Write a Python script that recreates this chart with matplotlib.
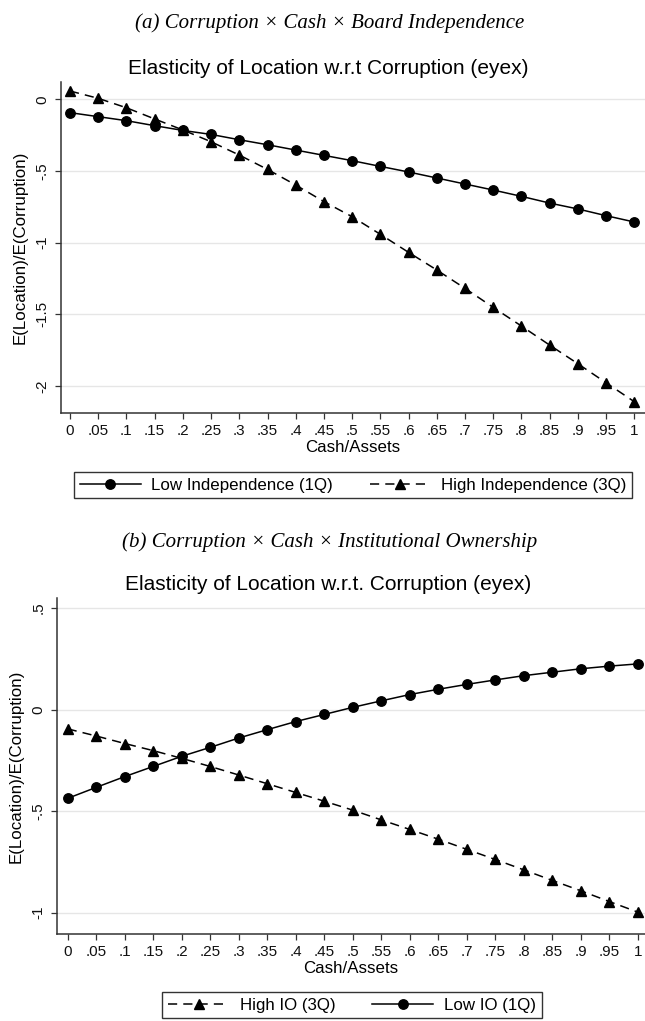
import matplotlib
matplotlib.use("Agg")
import matplotlib.pyplot as plt
from matplotlib.lines import Line2D

plt.rcParams['font.family'] = ['Liberation Sans', 'DejaVu Sans']

# shared x grid (Cash/Assets)
cash = [0, .05, .1, .15, .2, .25, .3, .35, .4, .45, .5,
        .55, .6, .65, .7, .75, .8, .85, .9, .95, 1]
cash_labels = ["0", ".05", ".1", ".15", ".2", ".25", ".3", ".35", ".4", ".45", ".5",
               ".55", ".6", ".65", ".7", ".75", ".8", ".85", ".9", ".95", "1"]

# panel (a): board independence
low_indep = [-0.093, -0.121, -0.149, -0.184, -0.217, -0.245, -0.282, -0.317, -0.354, -0.391, -0.428,
             -0.468, -0.507, -0.549, -0.591, -0.633, -0.677, -0.724, -0.765, -0.812, -0.856]
high_indep = [0.058, 0.007, -0.059, -0.137, -0.214, -0.296, -0.389, -0.489, -0.598, -0.714, -0.819,
              -0.942, -1.068, -1.191, -1.319, -1.452, -1.582, -1.715, -1.845, -1.978, -2.110]
a_yticks = [0, -0.5, -1, -1.5, -2]
a_ylabels = ["0", "-.5", "-1", "-1.5", "-2"]

# panel (b): institutional ownership
high_io = [-0.095, -0.130, -0.167, -0.202, -0.240, -0.280, -0.322, -0.365, -0.408, -0.451, -0.495,
           -0.543, -0.590, -0.638, -0.688, -0.738, -0.789, -0.841, -0.892, -0.945, -0.997]
low_io = [-0.437, -0.383, -0.330, -0.280, -0.230, -0.186, -0.140, -0.099, -0.059, -0.024, 0.011,
          0.043, 0.074, 0.100, 0.124, 0.146, 0.167, 0.184, 0.201, 0.214, 0.225]
b_yticks = [0.5, 0, -0.5, -1]
b_ylabels = [".5", "0", "-.5", "-1"]

W, H = 645, 1021
fig = plt.figure(figsize=(W / 100, H / 100), dpi=100)

DARK = "#333333"
GRID = "#e6e6e6"
solid_kw = dict(color="black", lw=1.1, marker="o", ms=6.8)
dash_kw = dict(color="black", lw=1.1, marker="^", ms=7.2, dashes=(6, 4))


def fx(px):
    return px / W


def fy(py):
    return 1 - py / H


def style_axes(ax, yticks, ylabels):
    ax.set_xticks(cash)
    ax.set_xticklabels(cash_labels)
    ax.set_yticks(yticks)
    ax.set_yticklabels(ylabels)
    plt.setp(ax.get_yticklabels(), rotation=90, va="center")
    ax.grid(axis="y", color=GRID, lw=1)
    ax.set_axisbelow(True)
    for s in ["top", "right"]:
        ax.spines[s].set_visible(False)
    for s in ["left", "bottom"]:
        ax.spines[s].set_color(DARK)
        ax.spines[s].set_linewidth(1.1)
    ax.tick_params(axis="both", colors=DARK, labelcolor="#111111", length=4, width=0.9,
                   labelsize=11, pad=4)
    ax.set_xlabel("Cash/Assets", fontsize=12.2, labelpad=1)
    ax.set_ylabel("E(Location)/E(Corruption)", fontsize=12.2, labelpad=6)


# ---- panel (a)
ax1 = fig.add_axes([fx(60.7), fy(413.3), 1 - fx(60.7), (413.3 - 81.7) / H])
ax1.plot(cash, low_indep, **solid_kw)
ax1.plot(cash, high_indep, **dash_kw)
ax1.set_xlim(-0.0165, 1.019)
ax1.set_ylim(-2.191, 0.123)
style_axes(ax1, a_yticks, a_ylabels)

fig.text(fx(330), fy(23), "(a) Corruption \u00d7 Cash \u00d7 Board Independence",
         family="Liberation Serif", style="italic", fontsize=15, ha="center", va="center")
fig.text(fx(328), fy(68), "Elasticity of Location w.r.t Corruption (eyex)",
         fontsize=15, ha="center", va="center")

h_low = Line2D([], [], **solid_kw)
h_high = Line2D([], [], **dash_kw)
leg1 = fig.legend([h_low, h_high], ["Low Independence (1Q)", "High Independence (3Q)"],
                  loc="center", bbox_to_anchor=(fx(353), fy(485)), ncol=2, fontsize=12.2,
                  handlelength=3.6, columnspacing=2.2, fancybox=False, framealpha=1,
                  edgecolor=DARK, borderpad=0.35, handletextpad=0.6)
leg1.get_frame().set_linewidth(1.0)

# ---- panel (b)
ax2 = fig.add_axes([fx(56.7), fy(934), 1 - fx(56.7), (934 - 598.3) / H])
ax2.plot(cash, high_io, **dash_kw)
ax2.plot(cash, low_io, **solid_kw)
ax2.set_xlim(-0.0193, 1.0128)
ax2.set_ylim(-1.105, 0.548)
style_axes(ax2, b_yticks, b_ylabels)

fig.text(fx(330), fy(542), "(b) Corruption \u00d7 Cash \u00d7 Institutional Ownership",
         family="Liberation Serif", style="italic", fontsize=15, ha="center", va="center")
fig.text(fx(328), fy(585), "Elasticity of Location w.r.t. Corruption (eyex)",
         fontsize=15, ha="center", va="center")

leg2 = fig.legend([h_high, h_low], ["High IO (3Q)", "Low IO (1Q)"],
                  loc="center", bbox_to_anchor=(fx(352), fy(1005)), ncol=2, fontsize=12.2,
                  handlelength=3.6, columnspacing=2.2, fancybox=False, framealpha=1,
                  edgecolor=DARK, borderpad=0.35, handletextpad=0.6)
leg2.get_frame().set_linewidth(1.0)

fig.savefig("out.png", dpi=100, facecolor="white")
